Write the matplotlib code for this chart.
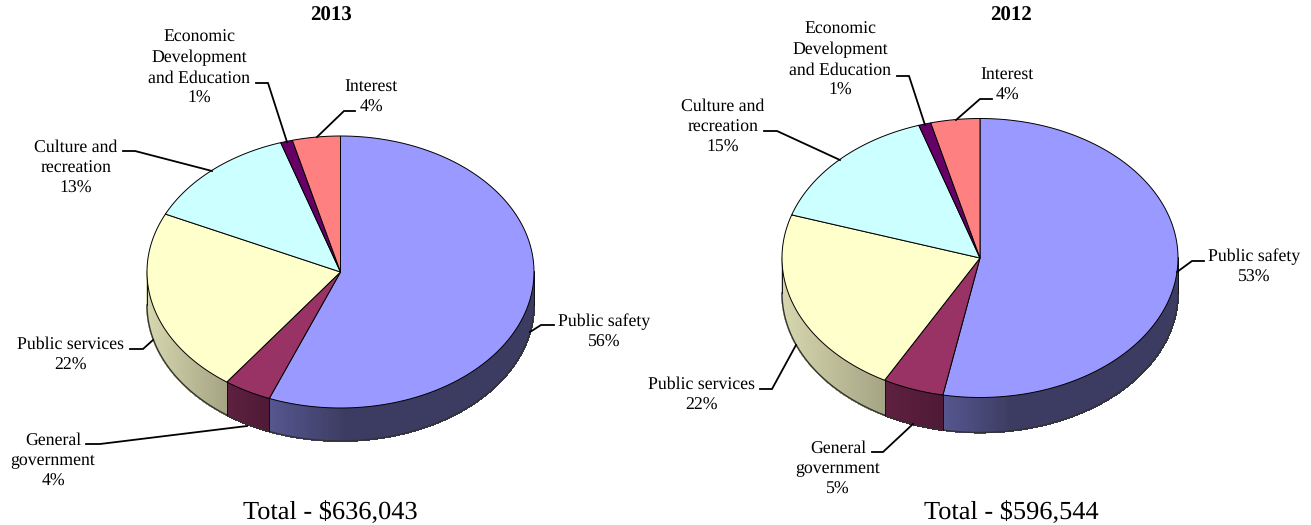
import numpy as np
import matplotlib
matplotlib.use('Agg')
from matplotlib import pyplot as plt
from matplotlib.colors import to_rgb
from matplotlib.patches import Polygon

plt.rcParams['font.family'] = ['Liberation Serif', 'DejaVu Serif']
plt.rcParams['text.hinting'] = 'no_hinting'

slice_names = ['Public safety', 'General\ngovernment', 'Public services',
               'Culture and\nrecreation', 'Economic\nDevelopment\nand Education', 'Interest']
values_2013 = [56, 4, 22, 13, 1, 4]
values_2012 = [53, 5, 22, 15, 1, 4]
total_2013 = 'Total - $636,043'
total_2012 = 'Total - $596,544'

top_colors = ['#9999ff', '#993366', '#ffffcc', '#ccffff', '#660066', '#ff8080']
# wall shade at the left end and right end of each slice
wall_left = ['#565690', '#5e2040', '#d6d6ae', '#ccffff', '#660066', '#ff8080']
wall_right = ['#3c3c62', '#4e1a36', '#a4a484', '#ccffff', '#660066', '#ff8080']

W, H = 1311, 525
LABEL_SIZE = 12.8
LINE_STEP = 20.4

# label centre x, first baseline y, leader points
labels_2013 = [
    (604, 326, [(530, 332), (541, 325), (554, 325)]),
    (53, 445, [(86, 444), (100, 444), (247, 426)]),
    (70, 349, [(130, 349), (143, 349), (153, 340)]),
    (76, 152, [(123, 151), (135, 151), (212, 171)]),
    (199, 42, [(256, 83), (268, 83), (287, 142)]),
    (371, 91, [(355, 111), (344, 111), (317, 137)]),
]
labels_2012 = [
    (1254, 261, [(1177, 272), (1192, 261), (1204, 261)]),
    (838, 453, [(872, 452), (883, 452), (913, 424)]),
    (701, 389, [(760, 389), (772, 389), (796, 345)]),
    (723, 111, [(764, 131), (777, 131), (840, 160)]),
    (840, 34, [(897, 76), (909, 76), (925, 125)]),
    (1007, 79, [(992, 99), (980, 99), (956, 120)]),
]


def blend(c1, c2, t):
    a, b = np.array(to_rgb(c1)), np.array(to_rgb(c2))
    return tuple(a + (b - a) * t)


def draw_pie(ax, values, cx, cy, rx, ry, depth, labels):
    edges = np.cumsum([0] + values) / 100 * 2 * np.pi

    def pt(t):
        return cx + rx * np.sin(t), cy - ry * np.cos(t)

    # walls first, only the part on the front of the ellipse shows
    for i in range(len(values)):
        lo = max(edges[i], np.pi / 2)
        hi = min(edges[i + 1], 3 * np.pi / 2)
        if hi <= lo:
            continue
        ts = np.linspace(lo, hi, 160)
        x_a, x_b = pt(lo)[0], pt(hi)[0]
        x_min, x_max = min(x_a, x_b), max(x_a, x_b)
        for a, b in zip(ts[:-1], ts[1:]):
            xa, ya = pt(a)
            xb, yb = pt(b)
            f = (0.5 * (xa + xb) - x_min) / max(x_max - x_min, 1)
            if i == 0:
                # the blue wall reaches its dark shade quickly
                f = min(f * 3.5, 1)
            col = blend(wall_left[i], wall_right[i], f)
            ax.add_patch(Polygon([(xa, ya), (xb, yb), (xb, yb + depth), (xa, ya + depth)],
                                 fc=col, ec=col, lw=0.8, antialiased=False))
        bx, by = pt(np.linspace(lo, hi, 90))
        ax.plot(bx, by + depth, color='#333333', lw=1.0)
        for t in (lo, hi):
            x, y = pt(t)
            ax.plot([x, x], [y, y + depth], color='#111111', lw=0.7)

    # top face
    for i in range(len(values)):
        ts = np.linspace(edges[i], edges[i + 1], 180)
        xs, ys = pt(ts)
        pts = [(cx, cy)] + list(zip(xs, ys))
        ax.add_patch(Polygon(pts, closed=True, fc=top_colors[i], ec='black', lw=0.7, zorder=3))

    # labels and leaders
    for i, (lx, ly, leader) in enumerate(labels):
        text = slice_names[i] + '\n%d%%' % values[i]
        for n, line in enumerate(text.split('\n')):
            ax.text(lx, ly + n * LINE_STEP, line, ha='center', va='baseline',
                    fontsize=LABEL_SIZE, color='black', zorder=5)
        ax.plot(*zip(*leader), color='black', lw=1.3, zorder=4, solid_joinstyle='miter')


fig = plt.figure(figsize=(W / 100, H / 100), dpi=100)
ax = fig.add_axes([0, 0, 1, 1])
ax.set_xlim(0, W)
ax.set_ylim(H, 0)
ax.axis('off')

draw_pie(ax, values_2013, 340.5, 272, 193.5, 136, 33, labels_2013)
draw_pie(ax, values_2012, 980, 258, 198, 139.5, 35, labels_2012)

ax.text(331, 21, '2013', ha='center', va='baseline', fontsize=15, fontweight='bold')
ax.text(1011, 21, '2012', ha='center', va='baseline', fontsize=15, fontweight='bold')
ax.text(330, 519, total_2013, ha='center', va='baseline', fontsize=19)
ax.text(1011, 519, total_2012, ha='center', va='baseline', fontsize=19)

fig.savefig('out.png', dpi=100)
